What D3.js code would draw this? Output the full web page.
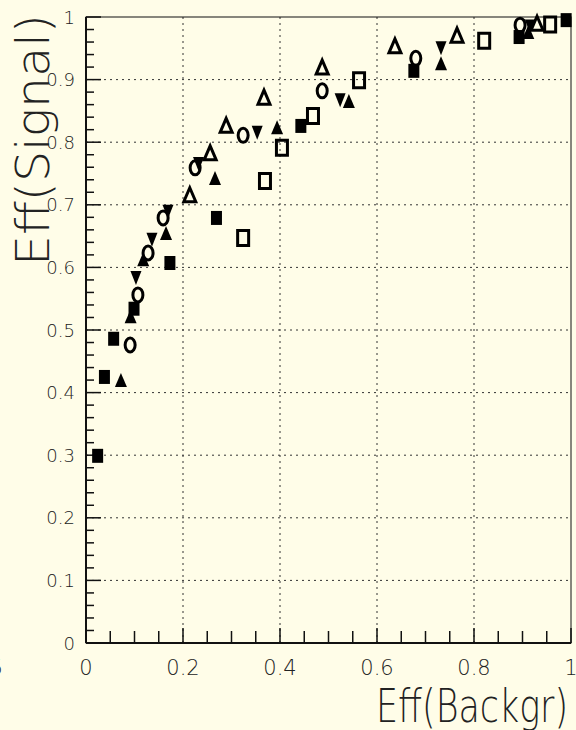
<!DOCTYPE html>
<html>
<head>
<meta charset="utf-8">
<script src="https://cdn.jsdelivr.net/npm/d3@7"></script>
<style>
  html, body { margin: 0; padding: 0; background: #fffde8; }
  svg { display: block; }
  text { font-family: "DejaVu Sans", sans-serif; font-weight: 200; fill: #222; }
</style>
</head>
<body>
<svg id="chart" width="576" height="730"></svg>
<script>
// Efficiency pairs (background eff, signal eff) for six selections
const filledSquare = [
  [0.024, 0.299], [0.038, 0.425], [0.057, 0.486], [0.099, 0.534], [0.173, 0.607],
  [0.269, 0.679], [0.443, 0.826], [0.676, 0.914], [0.893, 0.968], [0.990, 0.995]
];
const openSquare = [
  [0.324, 0.647], [0.369, 0.738], [0.404, 0.791], [0.468, 0.842], [0.563, 0.899],
  [0.821, 0.962], [0.957, 0.988]
];
const filledTriUp = [
  [0.072, 0.420], [0.092, 0.522], [0.118, 0.613], [0.165, 0.655], [0.266, 0.743],
  [0.394, 0.824], [0.542, 0.866], [0.732, 0.926], [0.912, 0.976]
];
const openTriUp = [
  [0.214, 0.716], [0.256, 0.783], [0.289, 0.827], [0.367, 0.872], [0.487, 0.920],
  [0.637, 0.954], [0.765, 0.971], [0.930, 0.990]
];
const filledTriDown = [
  [0.103, 0.583], [0.136, 0.644], [0.169, 0.689], [0.232, 0.765], [0.353, 0.815],
  [0.524, 0.867], [0.732, 0.950], [0.916, 0.985]
];
const openCircle = [
  [0.091, 0.476], [0.107, 0.556], [0.128, 0.623], [0.159, 0.679], [0.225, 0.759],
  [0.324, 0.811], [0.487, 0.882], [0.680, 0.934], [0.895, 0.987]
];

const xTickLabels = ["0", "0.2", "0.4", "0.6", "0.8", "1"];
const yTickLabels = ["0", "0.1", "0.2", "0.3", "0.4", "0.5", "0.6", "0.7", "0.8", "0.9", "1"];
const xTitle = "Eff(Backgr)";
const yTitle = "Eff(Signal)";

const svg = d3.select("#chart");
const padL = 86, padR = 571, padT = 17, padB = 643;

const x = d3.scaleLinear().domain([0, 1]).range([padL, padR]);
const y = d3.scaleLinear().domain([0, 1]).range([padB, padT]);

// dotted grid
const grid = svg.append("g").attr("stroke", "#333").attr("stroke-width", 1)
  .attr("stroke-dasharray", "2,4");
xTickLabels.slice(1, -1).forEach(t => {
  grid.append("line").attr("x1", x(+t)).attr("x2", x(+t)).attr("y1", padB).attr("y2", padT);
});
yTickLabels.slice(1, -1).forEach(t => {
  grid.append("line").attr("x1", padL).attr("x2", padR).attr("y1", y(+t)).attr("y2", y(+t));
});

// frame
svg.append("rect").attr("x", padL).attr("y", padT).attr("width", padR - padL)
  .attr("height", padB - padT).attr("fill", "none").attr("stroke", "#111").attr("stroke-width", 1);
svg.append("line").attr("x1", padL).attr("x2", padL).attr("y1", padT).attr("y2", padB)
  .attr("stroke", "#111").attr("stroke-width", 2);
svg.append("line").attr("x1", padL).attr("x2", padR).attr("y1", padB).attr("y2", padB)
  .attr("stroke", "#111").attr("stroke-width", 2);

// ticks
const ticks = svg.append("g").attr("stroke", "#111").attr("stroke-width", 1.5);
d3.range(0, 51).forEach(i => {
  const v = i / 50;
  const major = i % 5 === 0;
  ticks.append("line").attr("x1", padL).attr("x2", padL + (major ? 15 : 8))
    .attr("y1", y(v)).attr("y2", y(v));
});
d3.range(0, 21).forEach(i => {
  const v = i / 20;
  const major = i % 4 === 0;
  ticks.append("line").attr("x1", x(v)).attr("x2", x(v))
    .attr("y1", padB).attr("y2", padB - (major ? 15 : 12));
});

// tick labels
svg.append("g").selectAll("text").data(yTickLabels).join("text")
  .attr("x", padL - 11).attr("y", d => y(+d) + 6.5)
  .attr("text-anchor", "end").attr("font-size", 18).text(d => d);
svg.append("g").selectAll("text").data(xTickLabels).join("text")
  .attr("x", d => x(+d)).attr("y", 675)
  .attr("text-anchor", "middle").attr("font-size", 21).text(d => d);
svg.append("text").attr("x", 3).attr("y", 675).attr("text-anchor", "end")
  .attr("font-size", 21).text("5");

// axis titles
svg.append("text").attr("x", 376).attr("y", 722).attr("font-size", 46)
  .attr("textLength", 192).attr("lengthAdjust", "spacingAndGlyphs").text(xTitle);
svg.append("text").attr("transform", "translate(49,266) rotate(-90)")
  .attr("font-size", 46).attr("textLength", 252).attr("lengthAdjust", "spacingAndGlyphs")
  .text(yTitle);

// marker shapes, drawn slightly taller than wide
function sqPath(w, h) { return `M${-w/2},${-h/2}H${w/2}V${h/2}H${-w/2}Z`; }
function triUpPath(w, h) { return `M0,${-h/2}L${w/2},${h/2}L${-w/2},${h/2}Z`; }
function triDownPath(w, h) { return `M0,${h/2}L${w/2},${-h/2}L${-w/2},${-h/2}Z`; }
function ellPath(w, h) {
  const rx = w / 2, ry = h / 2;
  return `M${-rx},0A${rx},${ry} 0 1,0 ${rx},0A${rx},${ry} 0 1,0 ${-rx},0Z`;
}

function drawSeries(data, path, filled) {
  svg.append("g").selectAll("path").data(data).join("path")
    .attr("transform", d => `translate(${x(d[0])},${y(d[1])})`)
    .attr("d", path)
    .attr("fill", filled ? "#000" : "none")
    .attr("stroke", "#000")
    .attr("stroke-width", filled ? 0 : 3);
}

drawSeries(filledSquare, sqPath(11, 14), true);
drawSeries(filledTriUp, triUpPath(12, 14), true);
drawSeries(filledTriDown, triDownPath(11, 14), true);
drawSeries(openSquare, sqPath(11, 15), false);
drawSeries(openTriUp, triUpPath(12, 14), false);
drawSeries(openCircle, ellPath(10, 14), false);
</script>
</body>
</html>
